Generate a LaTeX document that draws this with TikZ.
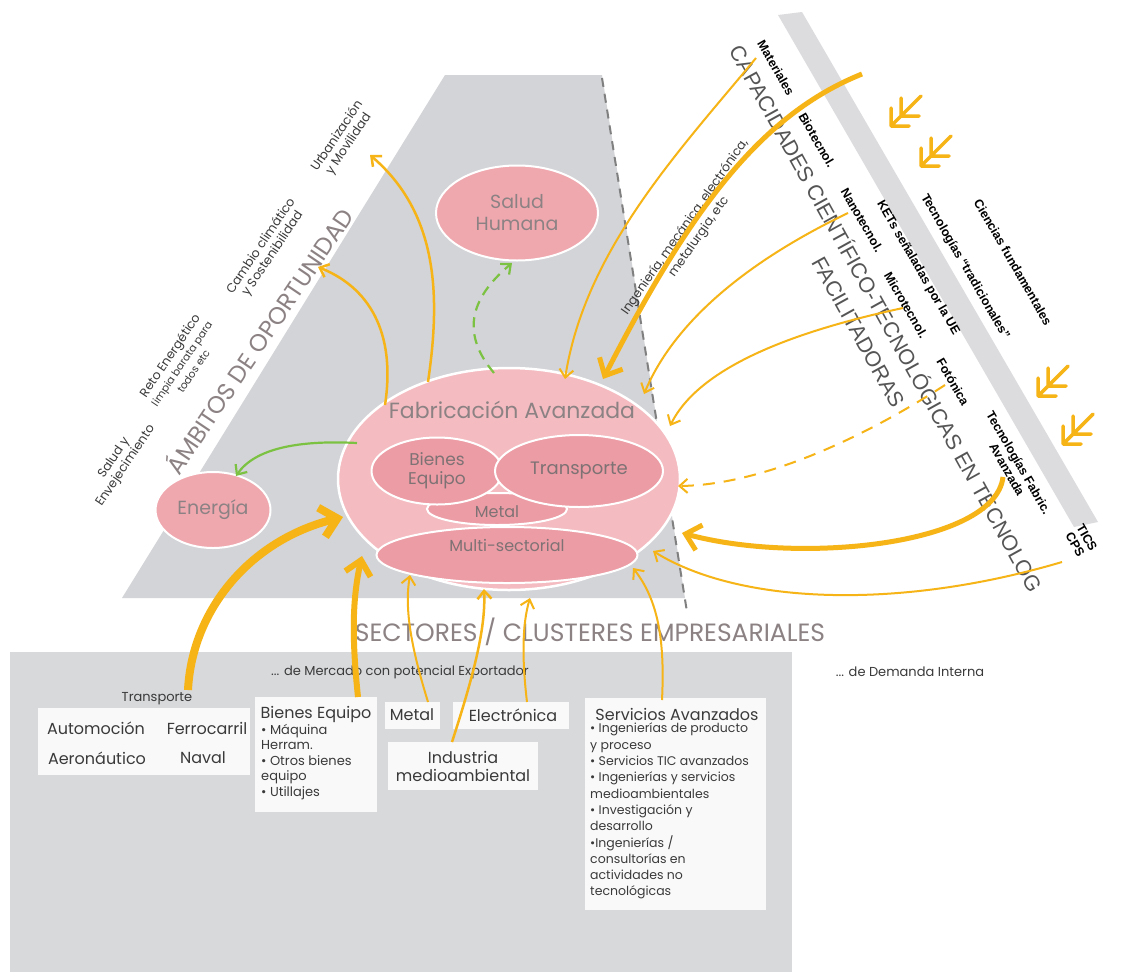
\documentclass[tikz,border=0pt]{standalone}
\usepackage{fontspec}
\setmainfont{Poppins}
\newfontfamily\arialf{Liberation Sans}
\usetikzlibrary{shapes.geometric,arrows.meta}
\definecolor{ylw}{HTML}{F6B417}
\definecolor{grn}{HTML}{7CC242}
\definecolor{pinkA}{HTML}{F0A8AF}
\definecolor{pinkB}{HTML}{F4BCC1}
\definecolor{pinkC}{HTML}{EC9CA5}
\definecolor{grayA}{HTML}{D3D4D7}
\definecolor{grayB}{HTML}{D8D9DB}
\definecolor{grayS}{HTML}{DCDCDF}
\definecolor{txtg}{HTML}{8C8284}
\definecolor{txti}{HTML}{7E7274}
\definecolor{lbl}{HTML}{3A3A3A}
\definecolor{ttl}{HTML}{555555}
\newcommand\fz[2]{\fontsize{#1}{#2}\selectfont}
\begin{document}
\begin{tikzpicture}[x=1pt,y=-1pt,
  ell/.style={ellipse,draw=white,line width=2pt,inner sep=0pt,align=center,text=txtg},
  ya/.style={draw=ylw,line width=2pt,-{Straight Barb[length=8pt,width=14pt]}},
  yaT/.style={draw=ylw,line width=6pt,-{Straight Barb[length=14pt,width=26pt]}},
  ga/.style={draw=grn,line width=2.2pt,-{Straight Barb[length=8pt,width=14pt]}},
  wbox/.style={fill=white,fill opacity=.85,draw=none,inner sep=0pt},
  amb/.style={rotate=56,align=center,text=lbl,font=\fz{12.5}{14}},
  kl/.style={rotate=-60,align=center,font=\arialf\bfseries\fz{12.5}{13.5},text=black},
  btxt/.style={text=lbl,font=\fz{16}{18}},
  chev/.pic={\draw[ylw,line width=3.5pt,line cap=round,line join=round]
     (18,0)--(0,0)--(0,-18) (28,-10)--(10,-10)--(10,-28) (0,0)--(30,-30);}
]
\useasboundingbox (0,0) rectangle (1139,972);
\fill[white] (0,0) rectangle (1139,972);

% backgrounds
\fill[grayA] (445,75)--(602,75)--(685,598)--(122,598)--cycle;
\fill[grayS] (778,15)--(802,12)--(1098,522)--(1074,527)--cycle;
\fill[grayB] (10,652) rectangle (792,972);
\draw[gray,line width=2pt,dash pattern=on 9pt off 7pt] (602,78)--(687,612);

% ambitos
\node[rotate=56,font=\fz{24}{26},text=txtg] (ambt) at (258,340) {ÁMBITOS DE OPORTUNIDAD};
\node[amb] (sal) at (120,462) {Salud y\\Envejecimiento};
\node[amb] (reto) at (181,363) {Reto Energético\\{\fz{10.5}{11.5}limpia barata para}\\{\fz{10.5}{11.5}todos etc}};
\node[amb] (camb) at (267,250) {Cambio climático\\y Sostenibilidad};
\node[amb] (urb) at (343,140) {Urbanización\\y Movilidad};

% ellipses
\node[ell,fill=pinkA,minimum width=162pt,minimum height=95pt,font=\fz{19}{22}] (salud) at (517,213) {Salud\\Humana};
\node[ell,fill=pinkA,minimum width=115pt,minimum height=76pt,font=\fz{19}{22}] (ener) at (213,510) {Energía};
\node[ell,fill=pinkB,minimum width=342pt,minimum height=222pt,line width=2.5pt] (fab) at (509,479) {};
\node[font=\fz{22}{24},text=txtg] (fabt) at (512,410) {Fabricación Avanzada};
\node[ell,fill=pinkC,minimum width=140pt,minimum height=32pt] (metal) at (497,509) {};
\node[font=\fz{16}{18},text=txti] (metalt) at (497,512) {Metal};
\node[ell,fill=pinkC,minimum width=131pt,minimum height=67pt,font=\fz{17}{19},text=txti] (bien) at (437,471) {Bienes\\Equipo};
\node[ell,fill=pinkC,minimum width=168pt,minimum height=72pt,font=\fz{18}{20},text=txti] (trans) at (579,471) {Transporte};
\node[ell,fill=pinkC,minimum width=261pt,minimum height=56pt] (multi) at (507,555) {};
\node[font=\fz{16}{18},text=txti] (multit) at (507,545) {Multi-sectorial};

% right labels
\node[rotate=-61,font=\arialf\fz{21.5}{23},text=ttl] (cap) at (887,318) {CAPACIDADES CIENTÍFICO-TECNOLÓGICAS EN TECNOLOG};
\node[rotate=-61,font=\arialf\fz{21.5}{23},text=ttl] (faci) at (858,332) {FACILITADORAS};
\node[kl] (mat) at (776,68) {Materiales};
\node[kl] (bio) at (817,140) {Biotecnol.};
\node[kl] (nano) at (862,220) {Nanotecnol.};
\node[kl] (micro) at (906,305) {Microtecnol.};
\node[kl] (foto) at (953,382) {Fotónica};
\node[kl] (tfab) at (1013,466) {Tecnologías Fabric.\\Avanzada};
\node[kl] (tics) at (1081,541) {TICS\\CPS};
\node[kl] (kets) at (918,268) {KETs señaladas por la UE};
\node[kl] (trad) at (965,267) {Tecnologías “tradicionales”};
\node[kl] (cien) at (1013,262) {Ciencias fundamentales};
\node[rotate=55,font=\fz{12.5}{17},text=lbl,align=center] (ing) at (692,232) {Ingeniería, mecánica, electrónica,\\metalurgia, etc};

\pic at (891,126) {chev};
\pic at (921,166) {chev};
\pic at (1038,396) {chev};
\pic at (1063,444) {chev};

% bottom
\node[font=\fz{25}{27},text=txtg] (sect) at (590,632) {SECTORES / CLUSTERES EMPRESARIALES};
\node[font=\fz{13}{15},text=lbl] (merc) at (400,672) {... de Mercado con potencial Exportador};
\node[font=\fz{13}{15},text=lbl] (dem) at (910,672) {... de Demanda Interna};

\node[wbox,anchor=north west,minimum width=212pt,minimum height=67pt] (tbox) at (38,708) {};
\node[font=\fz{13}{15},text=lbl] (trl) at (157,699) {Transporte};
\node[btxt] (auto) at (96,728) {Automoción};
\node[btxt] (ferro) at (207,728) {Ferrocarril};
\node[btxt] (aero) at (97,758) {Aeronáutico};
\node[btxt] (naval) at (203,758) {Naval};

\node[wbox,anchor=north west,minimum width=122pt,minimum height=115pt] (bbox) at (255,697) {};
\node[btxt] (bient) at (316,714) {Bienes Equipo};
\node[anchor=north west,align=left,font=\fz{13}{15.5},text=lbl,inner sep=0pt] (bienl) at (261,724) {• Máquina\\Herram.\\• Otros bienes\\equipo\\• Utillajes};

\node[wbox,anchor=north west,minimum width=55pt,minimum height=27pt] (mbox) at (385,702) {};
\node[btxt] (metb) at (412,715) {Metal};
\node[wbox,anchor=north west,minimum width=116pt,minimum height=27pt] (ebox) at (453,702) {};
\node[btxt] (elec) at (513,715) {Electrónica};
\node[wbox,anchor=north west,minimum width=150pt,minimum height=48pt] (ibox) at (388,742) {};
\node[btxt,align=center] (indu) at (463,766) {Industria\\medioambiental};

\node[wbox,anchor=north west,minimum width=181pt,minimum height=212pt] (sbox) at (585,698) {};
\node[btxt] (servt) at (677,714) {Servicios Avanzados};
\node[anchor=north west,align=left,font=\fz{12.5}{16.3},text=lbl,inner sep=0pt] (servl) at (590,723) {• Ingenierías de producto\\y proceso\\• Servicios TIC avanzados\\• Ingenierías y servicios\\medioambientales\\• Investigación y\\desarrollo\\•Ingenierías /\\consultorías en\\actividades no\\tecnológicas};

% connector end points
\coordinate (a1s) at (188,690); \coordinate (a1e) at (343,517);
\coordinate (a2s) at (358,697); \coordinate (a2e) at (362,556);
\coordinate (a3s) at (428,702); \coordinate (a3e) at (410,575);
\coordinate (a4s) at (452,742); \coordinate (a4e) at (484,589);
\coordinate (a5s) at (527,702); \coordinate (a5e) at (530,598);
\coordinate (a6s) at (662,700); \coordinate (a6e) at (633,568);
\coordinate (o1s) at (428,382); \coordinate (o1e) at (370,155);
\coordinate (o2s) at (385,405); \coordinate (o2e) at (318,267);
\coordinate (g1s) at (494,373); \coordinate (g1e) at (512,263);
\coordinate (g2s) at (357,443); \coordinate (g2e) at (236,476);
\coordinate (r1s) at (756,58);  \coordinate (r1e) at (565,379);
\coordinate (r2s) at (862,74);  \coordinate (r2e) at (603,379);
\coordinate (r3s) at (848,213); \coordinate (r3e) at (644,394);
\coordinate (r4s) at (903,308); \coordinate (r4e) at (670,426);
\coordinate (r5s) at (945,385); \coordinate (r5e) at (678,486);
\coordinate (r6s) at (1003,477); \coordinate (r6e) at (682,533);
\coordinate (r7s) at (1062,562); \coordinate (r7e) at (653,551);

% connectors
\draw[yaT,line width=8pt,-{Straight Barb[length=16pt,width=30pt]}] (a1s) .. controls (192,610) and (250,540) .. (a1e);
\draw[yaT] (a2s) .. controls (352,640) and (352,600) .. (a2e);
\draw[ya] (a3s) .. controls (412,650) and (404,610) .. (a3e);
\draw[ya,line width=2.5pt] (a4s) .. controls (472,680) and (486,630) .. (a4e);
\draw[ya] (a5s) .. controls (522,660) and (522,625) .. (a5e);
\draw[ya] (a6s) .. controls (665,640) and (658,600) .. (a6e);

\draw[ya,line width=2.5pt] (o1s) .. controls (440,300) and (440,215) .. (o1e);
\draw[ya,line width=2.5pt] (o2s) .. controls (395,340) and (375,290) .. (o2e);
\draw[ga,dash pattern=on 10pt off 7pt] (g1s) .. controls (462,335) and (468,300) .. (g1e);
\draw[ga] (g2s) .. controls (300,440) and (255,448) .. (g2e);

\draw[ya] (r1s) .. controls (680,150) and (585,250) .. (r1e);
\draw[yaT,line width=5pt] (r2s) .. controls (760,115) and (690,210) .. (r2e);
\draw[ya] (r3s) .. controls (750,260) and (675,320) .. (r3e);
\draw[ya] (r4s) .. controls (800,330) and (700,365) .. (r4e);
\draw[ya,dash pattern=on 12pt off 9pt] (r5s) .. controls (860,440) and (760,485) .. (r5e);
\draw[yaT,line width=5pt] (r6s) .. controls (995,545) and (800,565) .. (r6e);
\draw[ya] (r7s) .. controls (900,610) and (740,605) .. (r7e);
\end{tikzpicture}
\end{document}
